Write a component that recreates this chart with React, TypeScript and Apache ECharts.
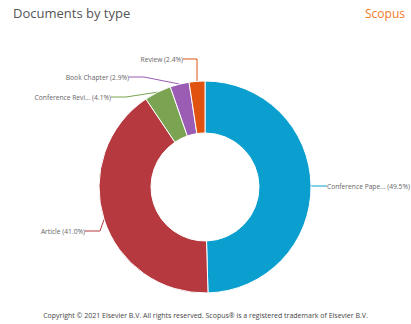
import React, { useEffect, useRef } from "react";
import * as echarts from "echarts";

const categories = ["Conference Pape...", "Article", "Conference Revi...", "Book Chapter", "Review"];
const values = [49.5, 41.0, 4.1, 2.9, 2.4];
const colors = ["#0a9fcf", "#b5393f", "#7aa352", "#9a5db3", "#e0520f"];
const labelPos = [
  { x: 327, y: 186, align: "left" },
  { x: 85, y: 231, align: "right" },
  { x: 111, y: 97, align: "right" },
  { x: 129, y: 77, align: "right" },
  { x: 183, y: 59, align: "right" },
];

export default function App() {
  const ref = useRef<HTMLDivElement>(null);
  useEffect(() => {
    if (!ref.current) return;
    const chart = echarts.init(ref.current, null, { renderer: "svg" });
    chart.setOption({
      animation: false,
      backgroundColor: "#ffffff",
      title: [
        {
          text: "Documents by type",
          left: 8,
          top: 1,
          textStyle: { fontFamily: "Open Sans", fontSize: 13, fontWeight: "normal", color: "#555555" },
        },
        {
          text: "Scopus",
          right: 1,
          top: 2,
          textStyle: { fontFamily: "Open Sans", fontSize: 12, fontWeight: "normal", color: "#f07a26" },
        },
        {
          text: "Copyright © 2021 Elsevier B.V. All rights reserved. Scopus® is a registered trademark of Elsevier B.V.",
          left: "center",
          top: 307,
          textStyle: { fontFamily: "Open Sans", fontSize: 7, fontWeight: "normal", color: "#444444" },
        },
      ],
      series: [
        {
          type: "pie",
          center: [205, 187],
          radius: [54, 106],
          startAngle: 90,
          clockwise: true,
          avoidLabelOverlap: false,
          itemStyle: { borderColor: "#ffffff", borderWidth: 1 },
          label: {
            show: true,
            formatter: (p: any) => `${p.name} (${p.value.toFixed(1)}%)`,
            fontFamily: "Open Sans",
            fontSize: 6.7,
            color: "#666666",
          },
          labelLine: { show: true, length: 10, length2: 15, lineStyle: { width: 1 } },
          labelLayout: (p: any) => {
            const lp = labelPos[p.dataIndex];
            return { x: lp.x, y: lp.y, align: lp.align, verticalAlign: "middle" };
          },
          data: categories.map((c, i) => ({ name: c, value: values[i], itemStyle: { color: colors[i] } })),
        },
      ],
    });
    return () => chart.dispose();
  }, []);
  return <div ref={ref} style={{ position: "fixed", left: 0, top: 0, width: 411, height: 324 }} />;
}
